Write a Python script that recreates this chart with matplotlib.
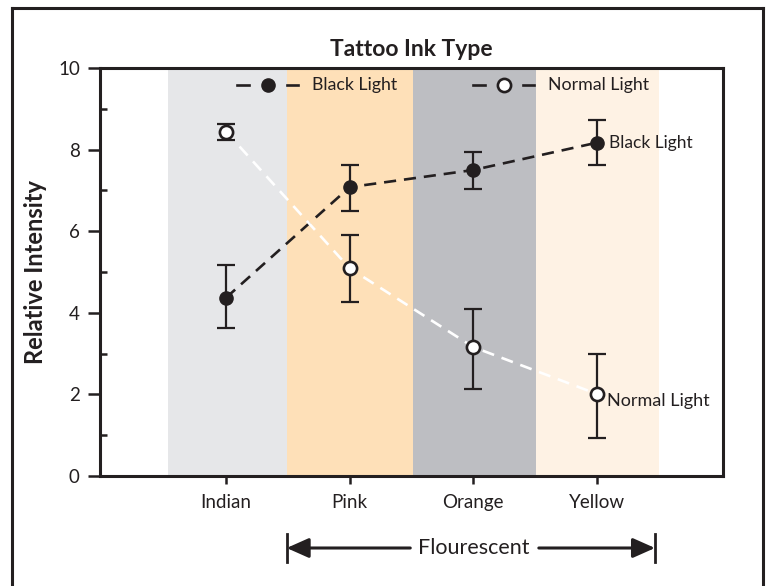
import matplotlib
matplotlib.use("Agg")
import matplotlib.pyplot as plt
from matplotlib.lines import Line2D
import matplotlib.transforms as mtransforms
import numpy as np

plt.rcParams['font.family'] = ['Lato', 'DejaVu Sans']

# ---- data ----
categories = ["Indian", "Pink", "Orange", "Yellow"]
black_light = [4.37, 7.08, 7.50, 8.17]
black_low = [3.62, 6.50, 7.03, 7.62]
black_high = [5.16, 7.62, 7.93, 8.73]
normal_light = [8.44, 5.09, 3.16, 2.01]
normal_low = [8.24, 4.26, 2.13, 0.92]
normal_high = [8.63, 5.91, 4.09, 3.00]
band_edges = [-0.47, 0.49, 1.51, 2.51, 3.50]
band_colors = ["#E6E7E9", "#FEE0B8", "#BDBEC2", "#FEF2E4"]
yticks = [0, 2, 4, 6, 8, 10]
ink = "#231F20"

fig = plt.figure(figsize=(7.66, 5.86), dpi=100)
ax = fig.add_axes([100/766, 1-476/586, (723-100)/766, (476-68)/586])

x = np.arange(len(categories))

for i, c in enumerate(band_colors):
    ax.axvspan(band_edges[i], band_edges[i+1], color=c, lw=0, zorder=0)

dash = (0, (4.6, 3.0))
bl = np.array(black_light)
nl = np.array(normal_light)
ax.plot(x, bl, color=ink, lw=1.9, ls=dash, zorder=2)
ax.plot(x, nl, color='white', lw=1.9, ls=dash, zorder=2)
ax.errorbar(x, bl, yerr=[bl-np.array(black_low), np.array(black_high)-bl],
            fmt='none', ecolor=ink, elinewidth=1.6, capsize=6.5, capthick=1.6, zorder=3)
ax.errorbar(x, nl, yerr=[nl-np.array(normal_low), np.array(normal_high)-nl],
            fmt='none', ecolor=ink, elinewidth=1.6, capsize=6.5, capthick=1.6, zorder=3)
ax.plot(x, bl, 'o', color=ink, ms=9.5, zorder=4, ls='none')
ax.plot(x, nl, 'o', mfc='white', mec=ink, mew=1.9, ms=9.5, zorder=4, ls='none')

ax.set_xlim(-1.02, 4.02)
ax.set_ylim(0, 10)
ax.set_xticks(x)
ax.set_xticklabels(categories, fontsize=13.5, color=ink)
ax.set_yticks(yticks)
ax.set_yticklabels([str(v) for v in yticks], fontsize=13.5, color=ink)
ax.set_yticks([1, 3, 5, 7, 9], minor=True)
ax.tick_params(axis='y', which='major', direction='out', length=8.5, width=1.8, color=ink, pad=6)
ax.tick_params(axis='y', which='minor', direction='in', length=4.8, width=1.8, color=ink)
ax.tick_params(axis='x', which='major', direction='out', length=6, width=1.8, color=ink, pad=7)
for s in ax.spines.values():
    s.set_linewidth(2.2)
    s.set_color(ink)

ax.set_title("Tattoo Ink Type", fontsize=16.5, fontweight='bold', color=ink, pad=9)
ax.set_ylabel("Relative Intensity", fontsize=17, fontweight='bold', color=ink, labelpad=8)

# in-plot labels
ax.annotate("Black Light", (x[-1], bl[-1]), xytext=(9, 0), textcoords='offset points',
            va='center', ha='left', fontsize=12.5, color=ink)
ax.annotate("Normal Light", (x[-1], nl[-1]), xytext=(7, -5), textcoords='offset points',
            va='center', ha='left', fontsize=13, color=ink)

# manual legend
def legend_item(xc, yc, filled, label):
    t = ax.transAxes
    w = 1/623
    ax.add_line(Line2D([xc-31*w, xc-19*w], [yc, yc], transform=t, color=ink, lw=1.9, zorder=5))
    ax.add_line(Line2D([xc+19*w, xc+30*w], [yc, yc], transform=t, color=ink, lw=1.9, zorder=5))
    if filled:
        ax.add_line(Line2D([xc], [yc], transform=t, marker='o', color=ink, ms=9.5, zorder=5))
    else:
        ax.add_line(Line2D([xc], [yc], transform=t, marker='o', mfc='white', mec=ink,
                           mew=1.9, ms=9.5, zorder=5))
    ax.text(xc+44*w, yc, label, transform=t, va='center', ha='left', fontsize=12.8, color=ink)

legend_item((268-100)/623, (476-85)/408, True, "Black Light")
legend_item((504-100)/623, (476-85)/408, False, "Normal Light")

# Flourescent bracket
bt = mtransforms.blended_transform_factory(ax.transData, ax.transAxes)
yb = (476-548)/408
ax.text(2.0, yb, "Flourescent", transform=bt, ha='center', va='center', fontsize=15.5, color=ink)
ap = dict(arrowstyle='-|>,head_length=0.9,head_width=0.4', color=ink, lw=2.2, mutation_scale=15,
          shrinkA=0, shrinkB=0)
ax.annotate('', xy=(band_edges[1], yb), xytext=(1.49, yb), xycoords=bt, textcoords=bt,
            arrowprops=ap, annotation_clip=False)
ax.annotate('', xy=(band_edges[4] - 0.03, yb), xytext=(2.53, yb), xycoords=bt, textcoords=bt,
            arrowprops=ap, annotation_clip=False)
for xe in [band_edges[1], band_edges[4] - 0.03]:
    ax.add_line(Line2D([xe, xe], [(476-534)/408, (476-562)/408], transform=bt, color=ink,
                       lw=2.0, clip_on=False))

# outer frame
fl, fr, ftop = 12/766, 763/766, 1-8/586
for xs, ys in [([fl, fl], [0, ftop]), ([fl, fr], [ftop, ftop]), ([fr, fr], [ftop, 0])]:
    fig.add_artist(Line2D(xs, ys, transform=fig.transFigure, color=ink, lw=2.2))

fig.savefig("out.png", dpi=100)
